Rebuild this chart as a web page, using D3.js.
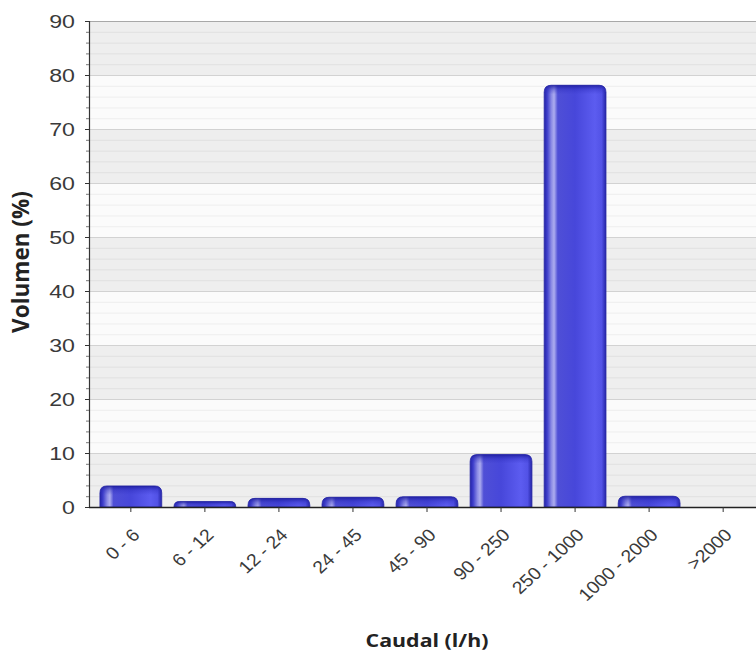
<!DOCTYPE html>
<html>
<head>
<meta charset="utf-8">
<script src="https://cdn.jsdelivr.net/npm/d3@7/dist/d3.min.js"></script>
<style>
  html, body { margin: 0; padding: 0; background: #ffffff; }
  svg { display: block; }
</style>
</head>
<body>
<div id="chart"></div>
<script>
// Flow-rate classes and the share of volume in each one
const categories = ["0 - 6", "6 - 12", "12 - 24", "24 - 45", "45 - 90", "90 - 250", "250 - 1000", "1000 - 2000", ">2000"];
const volumes = [3.9, 1.0, 1.6, 1.8, 1.9, 9.7, 78.1, 2.0, 0];
const yTicks = [0, 10, 20, 30, 40, 50, 60, 70, 80, 90];
const yTitle = "Volumen (%)";
const xTitle = "Caudal (l/h)";

const W = 756, H = 656;
const plotLeft = 89, plotTop = 21, plotBottom = 507, plotRight = 766;
const tickStretch = 1.22;  // tick numbers are drawn slightly widened
const labelStretch = 1.1;

const svg = d3.select("#chart").append("svg")
  .attr("width", W).attr("height", H);

const x = d3.scaleBand().domain(categories).range([94, 760]).paddingInner(0.165).paddingOuter(0.08);
const y = d3.scaleLinear().domain([0, 90]).range([plotBottom, plotTop]);

const defs = svg.append("defs");
defs.append("clipPath").attr("id", "plotClip")
  .append("rect").attr("x", plotLeft).attr("y", plotTop - 1)
  .attr("width", plotRight - plotLeft).attr("height", plotBottom - plotTop + 2);

// horizontal shading across each bar
const g = defs.append("linearGradient").attr("id", "barFill").attr("x1", 0).attr("x2", 1).attr("y1", 0).attr("y2", 0);
[[0, "#2323a8"], [0.05, "#4040cc"], [0.12, "#8e8ee6"], [0.16, "#adadef"], [0.22, "#4f4fd6"], [0.5, "#4747da"],
 [0.82, "#5c5cf0"], [0.93, "#5252e6"], [1, "#2424a6"]]
  .forEach(([o, c]) => g.append("stop").attr("offset", o).attr("stop-color", c));

// darker cap along the top of each bar
const cap = defs.append("linearGradient").attr("id", "capFill").attr("x1", 0).attr("x2", 0).attr("y1", 0).attr("y2", 1);
[[0, "#1a1a9a", 0.85], [0.5, "#2a2ab8", 0.35], [1, "#3030c0", 0]]
  .forEach(([o, c, a]) => cap.append("stop").attr("offset", o).attr("stop-color", c).attr("stop-opacity", a));

const plot = svg.append("g").attr("clip-path", "url(#plotClip)");

// alternating bands between major gridlines
plot.selectAll("rect.band").data(d3.range(0, 90, 10)).enter().append("rect")
  .attr("class", "band")
  .attr("x", plotLeft).attr("width", plotRight - plotLeft)
  .attr("y", d => y(d + 10)).attr("height", d => y(d) - y(d + 10))
  .attr("fill", d => (d / 10) % 2 === 0 ? "#eeeeee" : "#fbfbfb");

// minor gridlines every 2 units
plot.selectAll("line.minor").data(d3.range(0, 90, 2).filter(v => v % 10 !== 0)).enter().append("line")
  .attr("class", "minor")
  .attr("x1", plotLeft).attr("x2", plotRight)
  .attr("y1", d => y(d) + 0.5).attr("y2", d => y(d) + 0.5)
  .attr("stroke", d => Math.floor(d / 10) % 2 === 0 ? "#e0e0e0" : "#eeeeee").attr("stroke-width", 1);

// major gridlines
plot.selectAll("line.major").data(yTicks.slice(1)).enter().append("line")
  .attr("class", "major")
  .attr("x1", plotLeft).attr("x2", plotRight)
  .attr("y1", d => y(d) + 0.5).attr("y2", d => y(d) + 0.5)
  .attr("stroke", d => d === 90 ? "#a8a8a8" : "#d2d2d2").attr("stroke-width", 1);

// bars with rounded top corners
function barPath(x0, w, yTop, yBase) {
  const h = yBase - yTop;
  const r = Math.min(7, h, w / 2);
  return `M${x0},${yBase} L${x0},${yTop + r} Q${x0},${yTop} ${x0 + r},${yTop} ` +
         `L${x0 + w - r},${yTop} Q${x0 + w},${yTop} ${x0 + w},${yTop + r} L${x0 + w},${yBase} Z`;
}
const bars = plot.selectAll("g.bar").data(categories.map((c, i) => ({ c, v: volumes[i] })).filter(d => d.v > 0))
  .enter().append("g").attr("class", "bar");
bars.append("path")
  .attr("d", d => barPath(x(d.c), x.bandwidth(), y(d.v), y(0)))
  .attr("fill", "url(#barFill)")
  .attr("stroke", "#2a2aa6").attr("stroke-width", 0.8);
bars.append("path")
  .attr("d", d => barPath(x(d.c), x.bandwidth(), y(d.v), Math.min(y(0), y(d.v) + 9)))
  .attr("fill", "url(#capFill)");

// y axis
const yAxis = svg.append("g").attr("transform", `translate(${plotLeft},0)`)
  .call(d3.axisLeft(y).tickValues(yTicks).tickSize(4).tickPadding(10));
yAxis.select(".domain").attr("stroke", "#333").attr("stroke-width", 1.2);
yAxis.selectAll(".tick line").attr("stroke", "#333");
yAxis.selectAll("text")
  .attr("x", 0)
  .attr("transform", `translate(-14,0) scale(${tickStretch},1)`)
  .attr("font-family", "'Liberation Sans', Arial, sans-serif")
  .attr("font-size", 19).attr("fill", "#3a3a3a");
svg.append("g").selectAll("line").data(d3.range(0, 90, 2).filter(v => v % 10 !== 0)).enter().append("line")
  .attr("x1", plotLeft - 3).attr("x2", plotLeft)
  .attr("y1", d => y(d) + 0.5).attr("y2", d => y(d) + 0.5)
  .attr("stroke", "#777");

// x axis, category names turned 45 degrees and ending just right of each tick
const xAxis = svg.append("g").attr("transform", `translate(0,${plotBottom})`)
  .call(d3.axisBottom(x).tickSize(5).tickSizeOuter(0));
xAxis.select(".domain").attr("stroke", "#222").attr("stroke-width", 1.5).attr("d", `M${plotLeft},0.5H${W}`);
xAxis.selectAll(".tick line").attr("stroke", "#333");
xAxis.selectAll("text")
  .attr("font-family", "'Liberation Sans', Arial, sans-serif")
  .attr("font-size", 17.5).attr("fill", "#3a3a3a")
  .attr("text-anchor", "end")
  .attr("y", 0).attr("dy", 0)
  .attr("transform", `translate(10,29) scale(${labelStretch},1) rotate(-45)`);

// axis titles
svg.append("text")
  .attr("transform", `translate(29,262) rotate(-90)`)
  .attr("text-anchor", "middle")
  .attr("font-family", "'Open Sans', 'Noto Sans', sans-serif")
  .attr("font-weight", "bold").attr("font-size", 22.5).attr("fill", "#222")
  .text(yTitle);
svg.append("text")
  .attr("transform", `translate(427,647) scale(${tickStretch},1)`)
  .attr("text-anchor", "middle")
  .attr("font-family", "'Open Sans', 'Noto Sans', sans-serif")
  .attr("font-weight", "bold").attr("font-size", 17.5).attr("fill", "#222")
  .text(xTitle);
</script>
</body>
</html>
